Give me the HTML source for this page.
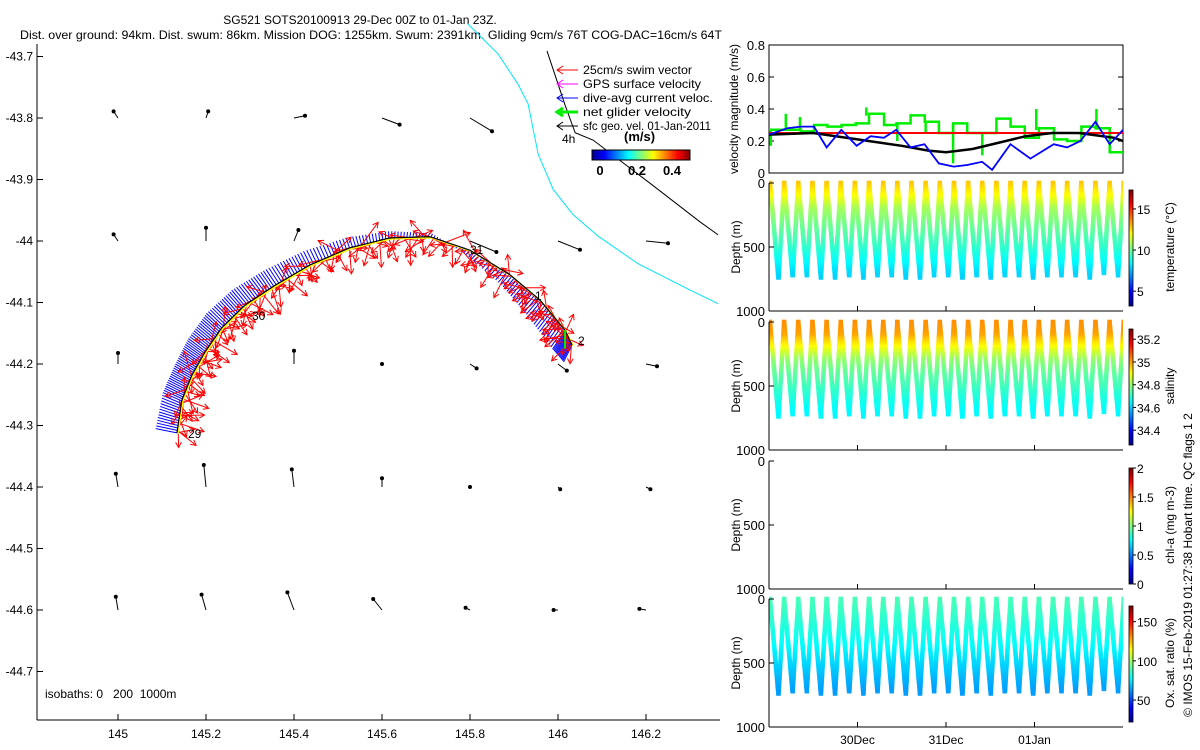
<!DOCTYPE html>
<html><head><meta charset="utf-8">
<style>
body{margin:0;background:#fff;}
svg{display:block;font-family:"Liberation Sans",sans-serif;}
</style></head>
<body>
<svg id="fig" width="1200" height="750" viewBox="0 0 1200 750" xmlns="http://www.w3.org/2000/svg">
<defs>
<linearGradient id="jetH" x1="0" x2="1" y1="0" y2="0">
<stop offset="0" stop-color="#00008f"/><stop offset="0.125" stop-color="#0000ff"/><stop offset="0.375" stop-color="#00ffff"/><stop offset="0.625" stop-color="#ffff00"/><stop offset="0.875" stop-color="#ff0000"/><stop offset="1" stop-color="#800000"/>
</linearGradient>
<linearGradient id="jetV" x1="0" x2="0" y1="1" y2="0">
<stop offset="0" stop-color="#00008f"/><stop offset="0.125" stop-color="#0000ff"/><stop offset="0.375" stop-color="#00ffff"/><stop offset="0.625" stop-color="#ffff00"/><stop offset="0.875" stop-color="#ff0000"/><stop offset="1" stop-color="#800000"/>
</linearGradient>
<clipPath id="clipR"><rect x="769" y="0" width="354" height="750"/></clipPath>
</defs>
<text x="360" y="24" font-size="12" text-anchor="middle">SG521 SOTS20100913 29-Dec 00Z to 01-Jan 23Z.</text>
<text x="20" y="39" font-size="12" textLength="702" lengthAdjust="spacingAndGlyphs">Dist. over ground: 94km. Dist. swum: 86km. Mission DOG: 1255km. Swum: 2391km. Gliding 9cm/s 76T COG-DAC=16cm/s 64T</text>
<g id="map"></g>
<g id="right"></g>
<text transform="translate(1192,565) rotate(-90)" font-size="12" text-anchor="middle">© IMOS 15-Feb-2019 01:27:38 Hobart time. QC flags 1  2</text>
</svg>
<script>
// ---------- data ----------
const latTicks=[-43.7,-43.8,-43.9,-44,-44.1,-44.2,-44.3,-44.4,-44.5,-44.6,-44.7];
const lonTicks=[145,145.2,145.4,145.6,145.8,146,146.2];
const trackLon=[145.134,145.145,145.168,145.198,145.236,145.289,145.357,145.436,145.527,145.618,145.709,145.8,145.891,145.959,146.016,146.032];
const trackLat=[-44.312,-44.259,-44.218,-44.180,-44.141,-44.104,-44.072,-44.039,-44.011,-43.995,-43.993,-44.015,-44.055,-44.096,-44.145,-44.169];
const currU=[-0.25,-0.22,-0.2,-0.2,-0.18,-0.15,-0.12,-0.08,-0.04,0,0.02,-0.05,-0.1,-0.15,-0.15,-0.1];
const currV=[0.05,0.1,0.12,0.15,0.17,0.18,0.18,0.16,0.12,0.08,0.04,-0.05,-0.12,-0.18,-0.22,-0.2];
const swimAngles=[-20,30,-60,80,10,-40,60,-10,120,20,-80,45,-30,100,0,70,-110,35,-5,140,55,-70,15,90,-45,25,-130,65];
const swimLen=[18,24,15,22,27,16,20,25,14,21,26,19,23,17,28,20];
const gridLon=[145,145.2,145.4,145.6,145.8,146,146.2];
const gridLat=[-43.8,-44,-44.2,-44.4,-44.6];
const gridU=[[-0.02,0.01,0.05,0.08,0.1,null,null],[-0.02,0,0.02,0,0.12,0.1,0.1],[0,null,0,0,0.03,0.04,0.05],[-0.01,-0.01,-0.01,0,0,0.01,0.02],[-0.01,-0.02,-0.03,-0.04,-0.02,-0.02,-0.03]];
const gridV=[[0.03,0.03,0.01,-0.03,-0.06,null,null],[0.03,0.06,0.05,0,-0.05,-0.04,-0.01],[0.05,null,0.06,0,-0.02,-0.03,-0.01],[0.06,0.1,0.08,0.04,0,-0.01,-0.01],[0.06,0.07,0.08,0.05,0.01,0,0.005]];
const cyanLon=[145.795,145.864,145.909,145.932,145.955,145.989,146.034,146.091,146.182,146.295,146.364];
const cyanLat=[-43.647,-43.696,-43.745,-43.777,-43.859,-43.916,-43.957,-43.992,-44.037,-44.078,-44.102];
const isoLon=[145.975,146.016,146.039,146.08,146.209,146.323,146.364];
const isoLat=[-43.691,-43.779,-43.824,-43.836,-43.906,-43.969,-43.990];

const dayTicks=[1,2,3];
const dayLabels=["30Dec","31Dec","01Jan"];
const velTicks=[0,0.2,0.4,0.6,0.8];
const blueT=[0,0.207,0.357,0.508,0.651,0.817,0.99,1.148,1.298,1.437,1.599,1.757,1.919,2.088,2.239,2.408,2.521,2.728,2.954,3.217,3.368,3.518,3.688,3.85,4];
const blueV=[0.24,0.28,0.29,0.29,0.16,0.27,0.17,0.23,0.22,0.27,0.16,0.18,0.06,0.04,0.05,0.07,0.02,0.18,0.09,0.18,0.16,0.2,0.32,0.18,0.27];
const blackT=[0,0.5,1,1.5,1.8,2.0,2.3,2.6,2.9,3.2,3.5,3.7,3.9,4];
const blackV=[0.24,0.25,0.21,0.17,0.14,0.13,0.15,0.19,0.23,0.25,0.25,0.235,0.22,0.2];
const redV=0.25;
const greenEdges=[0,0.19,0.36,0.51,0.66,0.82,0.98,1.13,1.3,1.44,1.6,1.76,1.92,2.08,2.24,2.41,2.57,2.73,2.89,3.05,3.22,3.37,3.53,3.69,3.85,4];
const greenV=[0.27,0.27,0.26,0.3,0.29,0.3,0.31,0.37,0.3,0.31,0.36,0.32,0.25,0.31,0.25,0.25,0.34,0.29,0.22,0.28,0.21,0.2,0.29,0.28,0.13];
const spikeT=[0.02,0.19,0.35,1.1,1.45,1.77,2.08,2.41,3.02,3.70];
const spikeV=[0.17,0.37,0.35,0.41,0.2,0.25,0.06,0.11,0.4,0.4];

const diveMax=[380,750,730,720,745,740,735,740,730,725,745,740,720,730,755,720,740,735,725,755,730,720,735,750,705,720,350];
const profDepth=[0,100,200,300,400,500,600,700,800];
const tempProf=[12.8,12.0,10.8,10.2,9.7,9.2,8.6,8.0,7.6];
const salProf=[35.02,35.0,34.9,34.8,34.75,34.72,34.68,34.65,34.64];
const oxProf=[88,86,83,80,76,72,68,64,62];
const depthTicks=[0,500,1000];

// ---------- helpers ----------
const NS="http://www.w3.org/2000/svg";
function mk(parent,tag,attrs){const e=document.createElementNS(NS,tag);for(const k in attrs)e.setAttribute(k,attrs[k]);parent.appendChild(e);return e;}
function jet(t){t=Math.max(0,Math.min(1,t));const c=v=>Math.round(255*Math.max(0,Math.min(1,v)));return `rgb(${c(1.5-Math.abs(4*t-3))},${c(1.5-Math.abs(4*t-2))},${c(1.5-Math.abs(4*t-1))})`;}
function interp(xs,ys,x){if(x<=xs[0])return ys[0];for(let i=1;i<xs.length;i++){if(x<=xs[i]){const f=(x-xs[i-1])/(xs[i]-xs[i-1]);return ys[i-1]+f*(ys[i]-ys[i-1]);}}return ys[ys.length-1];}

// ---------- map ----------
const map=document.getElementById('map');
const mx=lon=>118+(lon-145)*440;
const my=lat=>241+(-44-lat)*615;
mk(map,'line',{x1:37,y1:44,x2:37,y2:720,stroke:'#000'});
mk(map,'line',{x1:37,y1:720,x2:720,y2:720,stroke:'#000'});
latTicks.forEach(l=>{const y=my(l);
  mk(map,'line',{x1:37,y1:y,x2:43,y2:y,stroke:'#000'});
  const t=mk(map,'text',{x:33,y:y+4,'font-size':12,'text-anchor':'end'});t.textContent=String(l);
  
});
lonTicks.forEach(l=>{const x=mx(l);
  mk(map,'line',{x1:x,y1:720,x2:x,y2:714,stroke:'#000'});
  const t=mk(map,'text',{x:x,y:738,'font-size':12,'text-anchor':'middle'});t.textContent=String(l);
  
});
const ptsStr=(lo,la)=>lo.map((v,i)=>mx(v)+','+my(la[i])).join(' ');
const cy=mk(map,'polyline',{points:ptsStr(cyanLon,cyanLat),fill:'none',stroke:'#00e5ff','stroke-width':1});

const bl=mk(map,'polyline',{points:ptsStr(isoLon,isoLat),fill:'none',stroke:'#000','stroke-width':1});

gridLat.forEach((la,r)=>gridLon.forEach((lo,c)=>{
  const u=gridU[r][c],v=gridV[r][c];if(u===null)return;
  const x=mx(lo),y=my(la),x2=x+u*220,y2=y-v*220;
  const g=mk(map,'g',{});
  
  
  mk(g,'line',{x1:x,y1:y,x2:x2,y2:y2,stroke:'#000','stroke-width':1});
  mk(g,'circle',{cx:x2,cy:y2,r:2,fill:'#000'});
}));
const tg=mk(map,'g',{});

const N=200;const tp=[];
for(let k=0;k<N;k++){const f=k/(N-1)*(trackLon.length-1);const i=Math.min(Math.floor(f),trackLon.length-2),a=f-i;
  tp.push({x:mx(trackLon[i]+a*(trackLon[i+1]-trackLon[i])),y:my(trackLat[i]+a*(trackLat[i+1]-trackLat[i])),u:currU[i]+a*(currU[i+1]-currU[i]),v:currV[i]+a*(currV[i+1]-currV[i])});}
tp.forEach((p,k)=>{
  const l=mk(tg,'line',{x1:p.x,y1:p.y,x2:p.x+p.u*85,y2:p.y-p.v*85,stroke:'#0000ff','stroke-width':1});
  
});
tp.forEach((p,k)=>{
  const i0=Math.max(0,k-1),i1=Math.min(N-1,k+1);
  const dx=tp[i1].x-tp[i0].x,dy=tp[i1].y-tp[i0].y;
  const base=Math.atan2(dx,-dy);
  const a=base+swimAngles[k%swimAngles.length]*Math.PI/180,L=swimLen[k%swimLen.length];
  const x2=p.x+Math.cos(a)*L,y2=p.y+Math.sin(a)*L;
  const g=mk(tg,'g',{stroke:'#ff0000','stroke-width':1,fill:'none'});
  
  mk(g,'line',{x1:p.x,y1:p.y,x2:x2,y2:y2});
  mk(g,'polyline',{points:`${x2-Math.cos(a-0.5)*6},${y2-Math.sin(a-0.5)*6} ${x2},${y2} ${x2-Math.cos(a+0.5)*6},${y2-Math.sin(a+0.5)*6}`});
});
mk(tg,'polyline',{points:tp.map(p=>(p.x+1)+','+(p.y+1)).join(' '),fill:'none',stroke:'#ffff00','stroke-width':1.5});
mk(tg,'polyline',{points:tp.map(p=>p.x+','+p.y).join(' '),fill:'none',stroke:'#000','stroke-width':1.2});
const gv=mk(tg,'line',{x1:mx(146.016),y1:my(-44.145),x2:mx(146.016),y2:my(-44.175),stroke:'#00ee00','stroke-width':2});

[["29",188,438],["30",252,320],["31",470,254],["1",535,300],["2",578,345]].forEach(d=>{const t=mk(map,'text',{x:d[1],y:d[2],'font-size':12});t.textContent=d[0];});
const lg=mk(map,'g',{'font-size':12});

const legItems=[["25cm/s swim vector","#ff0000"],["GPS surface velocity","#ff00ff"],["dive-avg current veloc.","#0000ff"],["net glider velocity","#00ee00"],["sfc geo. vel. 01-Jan-2011","#000"]];
legItems.forEach((it,i)=>{const y=74+i*14;
  const e=mk(lg,'g',{});
  mk(e,'line',{x1:557,y1:y-4,x2:578,y2:y-4,stroke:it[1],'stroke-width':i==3?3:1});
  mk(e,'polyline',{points:`${563},${y-8} ${557},${y-4} ${563},${y}`,fill:'none',stroke:it[1],'stroke-width':i==3?3:1});
  const t=mk(e,'text',{x:583,y:y,textLength:i==4?128:(i==2?130:(i==0?109:(i==1?118:108))),lengthAdjust:'spacingAndGlyphs'});t.textContent=it[0];
});
const t4=mk(lg,'text',{x:562,y:143});t4.textContent='4h';
const mps=mk(lg,'text',{x:624,y:141,'font-weight':'bold','font-size':13});mps.textContent='(m/s)';
const cb=mk(lg,'rect',{x:592,y:150,width:98,height:10,fill:'url(#jetH)',stroke:'#000','stroke-width':1});

[["0",600],["0.2",637],["0.4",672]].forEach(d=>{const t=mk(lg,'text',{x:d[1],y:175,'font-weight':'bold','text-anchor':'middle','font-size':13});t.textContent=d[0];});
const iso=mk(map,'text',{x:45,y:698,'font-size':12,style:'white-space:pre'});iso.textContent='isobaths: 0   200  1000m';

// ---------- right panels ----------
const R=document.getElementById('right');
const X0=769,X1=1123;
const tx=d=>X0+d*(X1-X0)/4;
const vp=mk(R,'g',{});
const vy=v=>173-v*160;
mk(vp,'rect',{x:X0,y:45,width:X1-X0,height:128,fill:'none',stroke:'#000'});
velTicks.forEach(v=>{mk(vp,'line',{x1:X0,y1:vy(v),x2:X0+5,y2:vy(v),stroke:'#000'});mk(vp,'line',{x1:X1,y1:vy(v),x2:X1-5,y2:vy(v),stroke:'#000'});
  const t=mk(vp,'text',{x:765,y:vy(v)+5,'font-size':13,'text-anchor':'end'});t.textContent=String(v);});
const vl=mk(vp,'text',{transform:'translate(738,109) rotate(-90)','font-size':12,'text-anchor':'middle'});vl.textContent='velocity magnitude (m/s)';
let gp=[];greenV.forEach((v,i)=>{gp.push(tx(greenEdges[i])+','+vy(v));gp.push(tx(greenEdges[i+1])+','+vy(v));});
const gl=mk(vp,'polyline',{points:gp.join(' '),fill:'none',stroke:'#00ee00','stroke-width':2.5});
spikeT.forEach((t,i)=>{const base=interp(greenEdges.slice(0,-1),greenV,t);const s=mk(vp,'line',{x1:tx(t),y1:vy(base),x2:tx(t),y2:vy(spikeV[i]),stroke:'#00ee00','stroke-width':2.5});});
const rl=mk(vp,'line',{x1:X0,y1:vy(redV),x2:X1,y2:vy(redV),stroke:'#ff0000','stroke-width':2});
const kl=mk(vp,'polyline',{points:blackT.map((t,i)=>tx(t)+','+vy(blackV[i])).join(' '),fill:'none',stroke:'#000','stroke-width':2.5});
const bll=mk(vp,'polyline',{points:blueT.map((t,i)=>tx(t)+','+vy(blueV[i])).join(' '),fill:'none',stroke:'#0000ff','stroke-width':1.8});

const panels=[
 {top:183,prof:tempProf,lo:3.2,hi:17.3,ticks:[5,10,15],labels:["5","10","15"],title:"temperature (°C)",name:"temperature-panel",show:true},
 {top:322,prof:salProf,lo:34.27,hi:35.29,ticks:[34.4,34.6,34.8,35,35.2],labels:["34.4","34.6","34.8","35","35.2"],title:"salinity",name:"salinity-panel",show:true},
 {top:461,prof:null,lo:0,hi:2,ticks:[0,0.5,1,1.5,2],labels:["0","0.5","1","1.5","2"],title:"chl-a (mg m-3)",name:"chlorophyll-panel",show:false},
 {top:599,prof:oxProf,lo:22,hi:170,ticks:[50,100,150],labels:["50","100","150"],title:"Ox. sat. ratio (%)",name:"oxygen-panel",show:true}
];
const diveW=14.15;
panels.forEach(P=>{
  const g=mk(R,'g',{});
  const H=128,dy=d=>P.top+d*H/1000;
  if(P.show){
    const sc=mk(g,'g',{'clip-path':'url(#clipR)'});
    diveMax.forEach((m,i)=>{
      const xs=X0+(i-1)*diveW+1,xm=xs+diveW*0.6,xe=xs+diveW;
      for(let d=0;d<=m;d+=18){
        const val=interp(profDepth,P.prof,d);const c=jet((val-P.lo)/(P.hi-P.lo));
        [xs+(xm-xs)*d/m,xe-(xe-xm)*d/m].forEach(x=>{
          const r=mk(sc,'rect',{x:x-2.2,y:dy(d)-2.2,width:4.4,height:4.4,fill:c});
          
        });
      }
    });
  }
  mk(g,'line',{x1:X0,y1:P.top,x2:X0,y2:P.top+H,stroke:'#000'});
  mk(g,'line',{x1:X0,y1:P.top+H,x2:X1,y2:P.top+H,stroke:'#000'});
  depthTicks.forEach(d=>{mk(g,'line',{x1:X0,y1:dy(d),x2:X0+5,y2:dy(d),stroke:'#000'});
    const t=mk(g,'text',{x:765,y:dy(d)+5,'font-size':13,'text-anchor':'end'});t.textContent=String(d);});
  dayTicks.forEach(d=>mk(g,'line',{x1:tx(d),y1:P.top+H,x2:tx(d),y2:P.top+H-5,stroke:'#000'}));
  const yl=mk(g,'text',{transform:`translate(740,${P.top+64}) rotate(-90)`,'font-size':12,'text-anchor':'middle'});yl.textContent='Depth (m)';
  const cbT=P.top+7,cbB=P.top+123;const cv=v=>cbB-(v-P.lo)/(P.hi-P.lo)*(cbB-cbT);
  const cbr=mk(g,'rect',{x:1129,y:cbT,width:4,height:cbB-cbT,fill:'url(#jetV)',stroke:'#000','stroke-width':0.8});
  P.ticks.forEach((v,i)=>{mk(g,'line',{x1:1133,y1:cv(v),x2:1136,y2:cv(v),stroke:'#000'});
    const t=mk(g,'text',{x:1137,y:cv(v)+5,'font-size':12});t.textContent=P.labels[i];});
  const ct=mk(g,'text',{transform:`translate(1174,${P.top+64}) rotate(-90)`,'font-size':12,'text-anchor':'middle'});ct.textContent=P.title;
});
dayTicks.forEach((d,i)=>{const t=mk(R,'text',{x:tx(d),y:744,'font-size':12,'text-anchor':'middle'});t.textContent=dayLabels[i];});
</script>
</body></html>
